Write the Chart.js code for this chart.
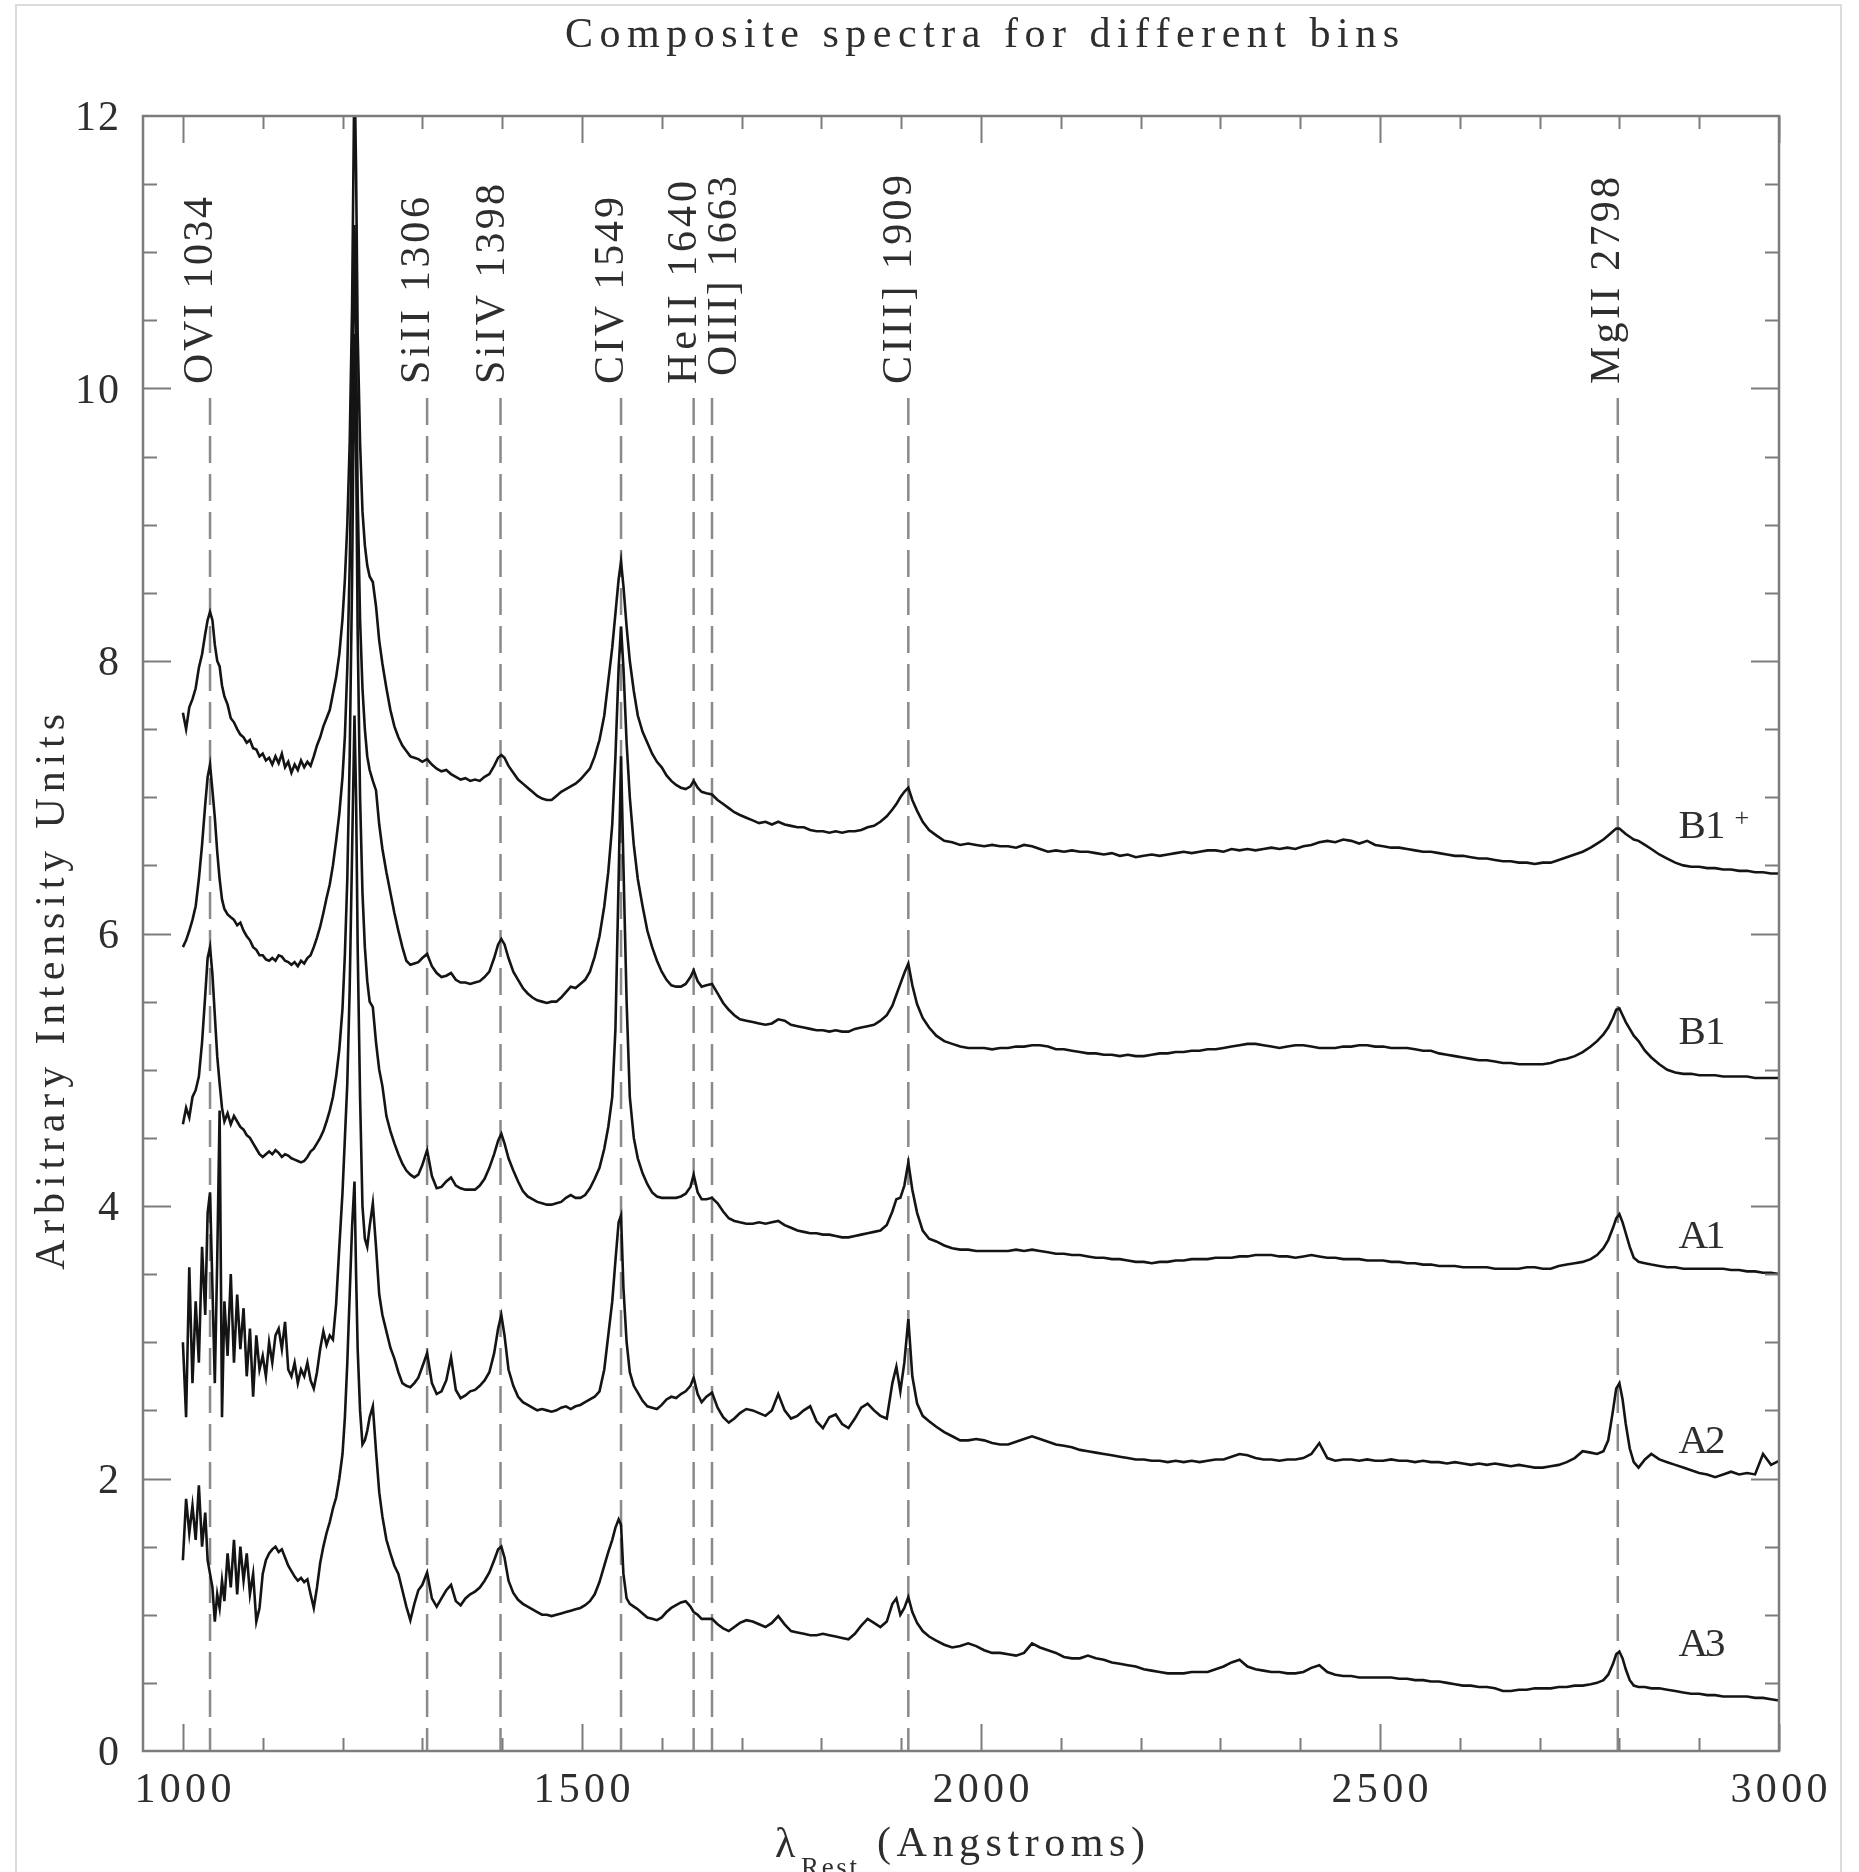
<!DOCTYPE html>
<html>
<head>
<meta charset="utf-8">
<title>Composite spectra for different bins</title>
<script src="https://cdn.jsdelivr.net/npm/chart.js@4.4.1/dist/chart.umd.min.js"></script>
<style>
  html, body { margin: 0; padding: 0; background: #fff; }
  #wrap { width: 1859px; height: 1872px; position: relative; overflow: hidden; }
</style>
</head>
<body>
<div id="wrap"><canvas id="spec" width="1859" height="1872"></canvas></div>
<script>
(function () {
  "use strict";

  // --- rest-frame wavelength grid (Angstroms), shared by the five composites ---
  const wave = [
    1000, 1004, 1008, 1012, 1016, 1020, 1024, 1028, 1031, 1034,
    1037, 1040, 1043, 1046, 1049, 1052, 1056, 1060, 1064, 1068,
    1072, 1076, 1080, 1084, 1088, 1092, 1096, 1100, 1104, 1108,
    1112, 1116, 1120, 1124, 1128, 1132, 1136, 1140, 1144, 1148,
    1152, 1156, 1160, 1164, 1168, 1172, 1176, 1180, 1184, 1188,
    1192, 1196, 1200, 1203, 1206, 1209, 1212, 1215, 1217, 1219,
    1222, 1225, 1228, 1231, 1234, 1238, 1242, 1246, 1250, 1255,
    1260, 1265, 1270, 1275, 1280, 1285, 1290, 1295, 1300, 1306,
    1312, 1318, 1324, 1330, 1336, 1342, 1348, 1354, 1360, 1366,
    1372, 1378, 1384, 1390, 1395, 1399, 1403, 1408, 1414, 1420,
    1426, 1432, 1438, 1444, 1450, 1456, 1462, 1468, 1474, 1480,
    1486, 1492, 1498, 1504, 1510, 1516, 1522, 1528, 1533, 1538,
    1542, 1546, 1549, 1552, 1556, 1560, 1565, 1570, 1576, 1582,
    1588, 1594, 1600, 1606, 1612, 1618, 1624, 1630, 1636, 1640,
    1645, 1650, 1656, 1663, 1670, 1677, 1684, 1691, 1698, 1706,
    1714, 1722, 1730, 1738, 1746, 1754, 1762, 1770, 1778, 1786,
    1794, 1802, 1810, 1818, 1826, 1834, 1842, 1850, 1858, 1866,
    1874, 1882, 1889, 1894, 1899, 1904, 1909, 1914, 1920, 1927,
    1935, 1944, 1954, 1964, 1974, 1984, 1994, 2004, 2014, 2024,
    2034, 2044, 2054, 2064, 2074, 2084, 2094, 2104, 2114, 2124,
    2134, 2144, 2154, 2164, 2174, 2184, 2194, 2204, 2214, 2224,
    2234, 2244, 2254, 2264, 2274, 2284, 2294, 2304, 2314, 2324,
    2334, 2344, 2354, 2364, 2374, 2384, 2394, 2404, 2414, 2424,
    2434, 2444, 2454, 2464, 2474, 2484, 2494, 2504, 2514, 2524,
    2534, 2544, 2554, 2564, 2574, 2584, 2594, 2604, 2614, 2624,
    2634, 2644, 2654, 2664, 2674, 2684, 2694, 2704, 2714, 2724,
    2734, 2744, 2754, 2764, 2772, 2780, 2786, 2792, 2796, 2800,
    2804, 2808, 2813, 2818, 2824, 2832, 2840, 2850, 2860, 2870,
    2880, 2890, 2900, 2910, 2920, 2930, 2940, 2950, 2960, 2970,
    2980, 2990, 3000
  ];

  // --- composite flux per bin (arbitrary units, already offset) ---
  const fluxB1p = [
    7.62, 7.50, 7.66, 7.72, 7.80, 7.95, 8.05, 8.20, 8.30, 8.36,
    8.30, 8.12, 8.00, 7.96, 7.82, 7.74, 7.68, 7.58, 7.55, 7.50,
    7.46, 7.44, 7.40, 7.42, 7.36, 7.35, 7.30, 7.32, 7.27, 7.29,
    7.24, 7.30, 7.25, 7.32, 7.22, 7.26, 7.18, 7.24, 7.20, 7.27,
    7.22, 7.26, 7.23, 7.30, 7.38, 7.44, 7.52, 7.58, 7.64, 7.76,
    7.88, 8.05, 8.31, 8.60, 9.00, 9.60, 10.60, 12.40, 11.60, 10.40,
    9.60, 9.10, 8.85, 8.70, 8.62, 8.58, 8.40, 8.15, 7.98, 7.80,
    7.64, 7.52, 7.44, 7.38, 7.34, 7.30, 7.29, 7.28, 7.26, 7.28,
    7.24, 7.21, 7.19, 7.20, 7.17, 7.15, 7.13, 7.14, 7.12, 7.13,
    7.12, 7.15, 7.17, 7.23, 7.29, 7.31, 7.29, 7.23, 7.18, 7.13,
    7.10, 7.07, 7.04, 7.01, 6.99, 6.98, 6.98, 7.01, 7.04, 7.06,
    7.08, 7.10, 7.13, 7.17, 7.21, 7.30, 7.42, 7.60, 7.85, 8.10,
    8.35, 8.60, 8.73, 8.55, 8.25, 8.00, 7.78, 7.60, 7.48, 7.40,
    7.32, 7.26, 7.22, 7.16, 7.12, 7.09, 7.07, 7.06, 7.08, 7.12,
    7.07, 7.04, 7.03, 7.02, 6.98, 6.95, 6.92, 6.89, 6.87, 6.85,
    6.83, 6.81, 6.82, 6.80, 6.82, 6.80, 6.79, 6.78, 6.78, 6.76,
    6.75, 6.75, 6.74, 6.75, 6.74, 6.75, 6.75, 6.76, 6.78, 6.79,
    6.82, 6.86, 6.91, 6.95, 7.00, 7.04, 7.07, 6.98, 6.90, 6.82,
    6.76, 6.72, 6.68, 6.67, 6.65, 6.66, 6.65, 6.64, 6.65, 6.64,
    6.64, 6.63, 6.65, 6.64, 6.62, 6.60, 6.61, 6.60, 6.61, 6.60,
    6.60, 6.59, 6.58, 6.59, 6.57, 6.58, 6.56, 6.57, 6.58, 6.57,
    6.58, 6.59, 6.60, 6.59, 6.60, 6.61, 6.61, 6.60, 6.62, 6.61,
    6.62, 6.61, 6.62, 6.63, 6.62, 6.63, 6.62, 6.64, 6.65, 6.67,
    6.68, 6.67, 6.69, 6.68, 6.66, 6.68, 6.65, 6.64, 6.63, 6.63,
    6.62, 6.61, 6.60, 6.60, 6.59, 6.58, 6.57, 6.57, 6.56, 6.55,
    6.55, 6.54, 6.53, 6.53, 6.52, 6.52, 6.51, 6.52, 6.52, 6.54,
    6.56, 6.58, 6.60, 6.63, 6.66, 6.69, 6.72, 6.75, 6.77, 6.77,
    6.75, 6.73, 6.71, 6.69, 6.68, 6.65, 6.62, 6.58, 6.55, 6.52,
    6.50, 6.49, 6.49, 6.48, 6.48, 6.47, 6.47, 6.46, 6.46, 6.45,
    6.45, 6.44, 6.44
  ];
  const fluxB1 = [
    5.90, 5.95, 6.02, 6.10, 6.20, 6.40, 6.65, 6.95, 7.15, 7.24,
    7.05, 6.85, 6.60, 6.40, 6.25, 6.18, 6.14, 6.12, 6.10, 6.06,
    6.08, 6.02, 5.98, 5.95, 5.90, 5.88, 5.84, 5.84, 5.81, 5.80,
    5.82, 5.80, 5.84, 5.83, 5.80, 5.79, 5.77, 5.79, 5.76, 5.80,
    5.78, 5.82, 5.84, 5.90, 5.97, 6.05, 6.15, 6.26, 6.36, 6.50,
    6.68, 6.88, 7.15, 7.45, 7.95, 8.70, 9.80, 11.20, 10.40, 9.20,
    8.30, 7.80, 7.50, 7.30, 7.20, 7.12, 7.05, 6.80, 6.62, 6.45,
    6.30, 6.15, 6.02, 5.90, 5.80, 5.77, 5.78, 5.79, 5.82, 5.85,
    5.76, 5.71, 5.68, 5.69, 5.71, 5.66, 5.64, 5.64, 5.63, 5.64,
    5.65, 5.68, 5.72, 5.82, 5.92, 5.96, 5.92, 5.82, 5.72, 5.66,
    5.60, 5.56, 5.53, 5.51, 5.50, 5.49, 5.50, 5.50, 5.53, 5.57,
    5.61, 5.60, 5.63, 5.66, 5.72, 5.83, 5.98, 6.20, 6.45, 6.80,
    7.30, 7.95, 8.25, 7.95, 7.40, 7.00, 6.65, 6.40, 6.20, 6.02,
    5.90, 5.80, 5.72, 5.66, 5.62, 5.61, 5.61, 5.63, 5.68, 5.73,
    5.65, 5.61, 5.62, 5.63, 5.56, 5.49, 5.44, 5.40, 5.37, 5.36,
    5.35, 5.34, 5.33, 5.34, 5.37, 5.36, 5.33, 5.32, 5.31, 5.30,
    5.29, 5.29, 5.28, 5.29, 5.28, 5.28, 5.30, 5.31, 5.32, 5.33,
    5.36, 5.40, 5.47, 5.55, 5.63, 5.71, 5.78, 5.62, 5.48, 5.38,
    5.31, 5.25, 5.21, 5.19, 5.17, 5.16, 5.16, 5.16, 5.15, 5.16,
    5.16, 5.17, 5.17, 5.18, 5.18, 5.17, 5.15, 5.15, 5.14, 5.13,
    5.12, 5.12, 5.11, 5.11, 5.10, 5.11, 5.10, 5.10, 5.11, 5.12,
    5.12, 5.13, 5.13, 5.14, 5.14, 5.15, 5.15, 5.16, 5.17, 5.18,
    5.19, 5.19, 5.18, 5.17, 5.16, 5.17, 5.18, 5.18, 5.17, 5.16,
    5.16, 5.16, 5.17, 5.17, 5.18, 5.18, 5.17, 5.17, 5.16, 5.16,
    5.16, 5.15, 5.14, 5.14, 5.12, 5.11, 5.10, 5.09, 5.08, 5.07,
    5.07, 5.06, 5.05, 5.05, 5.04, 5.04, 5.04, 5.04, 5.05, 5.07,
    5.08, 5.10, 5.13, 5.17, 5.21, 5.26, 5.31, 5.38, 5.44, 5.45,
    5.40, 5.35, 5.30, 5.25, 5.21, 5.14, 5.09, 5.04, 5.00, 4.98,
    4.97, 4.97, 4.96, 4.96, 4.96, 4.95, 4.95, 4.95, 4.95, 4.94,
    4.94, 4.94, 4.94
  ];
  const fluxA1 = [
    4.60, 4.72, 4.65, 4.80, 4.85, 4.95, 5.20, 5.55, 5.82, 5.90,
    5.70, 5.40, 5.10, 4.90, 4.72, 4.62, 4.68, 4.60, 4.66, 4.62,
    4.58, 4.56, 4.52, 4.50, 4.46, 4.42, 4.38, 4.36, 4.38, 4.40,
    4.38, 4.41, 4.39, 4.36, 4.38, 4.37, 4.35, 4.34, 4.33, 4.32,
    4.33, 4.36, 4.40, 4.42, 4.46, 4.50, 4.55, 4.62, 4.70, 4.80,
    4.95, 5.15, 5.45, 5.85, 6.40, 7.30, 8.60, 10.40, 9.60, 8.20,
    7.00, 6.30, 5.90, 5.65, 5.50, 5.46, 5.20, 5.00, 4.88, 4.66,
    4.55, 4.46, 4.38, 4.31, 4.26, 4.23, 4.21, 4.23, 4.30, 4.41,
    4.22, 4.13, 4.14, 4.18, 4.21, 4.15, 4.13, 4.12, 4.12, 4.12,
    4.15, 4.20, 4.28, 4.38, 4.48, 4.53, 4.46, 4.35, 4.26, 4.18,
    4.11, 4.07, 4.05, 4.03, 4.02, 4.01, 4.01, 4.02, 4.03, 4.06,
    4.08, 4.06, 4.06, 4.08, 4.13, 4.20, 4.28, 4.42, 4.58, 4.80,
    5.30, 6.40, 7.30, 6.50, 5.50, 4.80, 4.50, 4.35, 4.24, 4.16,
    4.10, 4.07, 4.06, 4.06, 4.06, 4.06, 4.07, 4.09, 4.14, 4.23,
    4.10, 4.05, 4.05, 4.06, 4.02, 3.96, 3.91, 3.89, 3.88, 3.87,
    3.87, 3.88, 3.87, 3.88, 3.89, 3.86, 3.84, 3.82, 3.81, 3.80,
    3.80, 3.79, 3.79, 3.78, 3.77, 3.77, 3.78, 3.79, 3.80, 3.81,
    3.82, 3.86, 3.96, 4.05, 4.06, 4.15, 4.32, 4.12, 3.95, 3.82,
    3.76, 3.74, 3.71, 3.69, 3.68, 3.68, 3.67, 3.67, 3.67, 3.67,
    3.67, 3.68, 3.67, 3.68, 3.67, 3.66, 3.65, 3.65, 3.64, 3.64,
    3.63, 3.62, 3.62, 3.61, 3.61, 3.60, 3.59, 3.59, 3.58, 3.59,
    3.59, 3.60, 3.60, 3.61, 3.61, 3.61, 3.62, 3.62, 3.62, 3.63,
    3.63, 3.64, 3.64, 3.64, 3.63, 3.63, 3.62, 3.63, 3.64, 3.63,
    3.62, 3.62, 3.61, 3.61, 3.61, 3.60, 3.60, 3.60, 3.59, 3.59,
    3.58, 3.58, 3.57, 3.57, 3.56, 3.56, 3.56, 3.55, 3.55, 3.55,
    3.55, 3.54, 3.54, 3.54, 3.54, 3.55, 3.55, 3.54, 3.54, 3.56,
    3.57, 3.58, 3.59, 3.61, 3.64, 3.69, 3.75, 3.84, 3.91, 3.94,
    3.88, 3.80, 3.70, 3.62, 3.59, 3.58, 3.57, 3.56, 3.55, 3.55,
    3.54, 3.54, 3.54, 3.54, 3.54, 3.54, 3.53, 3.53, 3.52, 3.52,
    3.51, 3.51, 3.50
  ];
  const fluxA2 = [
    3.00, 2.45, 3.55, 2.70, 3.30, 2.85, 3.70, 3.20, 3.95, 4.10,
    3.40, 2.70, 3.60, 4.70, 2.45, 3.30, 2.90, 3.50, 2.85, 3.35,
    2.95, 3.25, 2.75, 3.10, 2.60, 3.05, 2.80, 2.90, 2.75, 3.00,
    2.85, 3.05, 3.10, 2.95, 3.15, 2.80, 2.75, 2.85, 2.70, 2.80,
    2.75, 2.85, 2.72, 2.66, 2.78, 2.95, 3.08, 2.98, 3.05, 3.02,
    3.28, 3.70, 4.10, 4.50, 4.90, 5.60, 6.60, 7.60, 7.00, 5.90,
    4.80, 4.00, 3.76, 3.70, 3.85, 4.02, 3.70, 3.35, 3.20, 3.08,
    2.96, 2.88, 2.78, 2.70, 2.68, 2.67, 2.70, 2.74, 2.82, 2.92,
    2.70, 2.62, 2.64, 2.72, 2.89, 2.65, 2.59, 2.61, 2.64, 2.65,
    2.68, 2.72, 2.78, 2.92, 3.10, 3.20, 3.05, 2.80, 2.68, 2.60,
    2.56, 2.54, 2.52, 2.50, 2.51, 2.50, 2.49, 2.50, 2.52, 2.53,
    2.51, 2.53, 2.54, 2.56, 2.58, 2.60, 2.64, 2.80, 3.05, 3.30,
    3.60, 3.88, 3.93, 3.40, 3.00, 2.78, 2.68, 2.63, 2.57, 2.53,
    2.52, 2.51, 2.54, 2.58, 2.60, 2.59, 2.62, 2.64, 2.68, 2.74,
    2.62, 2.56, 2.60, 2.63, 2.52, 2.45, 2.41, 2.44, 2.48, 2.51,
    2.50, 2.48, 2.46, 2.50, 2.62, 2.50, 2.44, 2.46, 2.50, 2.53,
    2.42, 2.37, 2.45, 2.47, 2.40, 2.37, 2.44, 2.52, 2.55, 2.50,
    2.46, 2.44, 2.70, 2.82, 2.64, 2.85, 3.17, 2.75, 2.55, 2.46,
    2.42, 2.38, 2.34, 2.31, 2.28, 2.28, 2.29, 2.28, 2.26, 2.25,
    2.25, 2.27, 2.29, 2.31, 2.29, 2.27, 2.25, 2.24, 2.23, 2.21,
    2.20, 2.19, 2.18, 2.17, 2.16, 2.15, 2.14, 2.14, 2.13, 2.13,
    2.12, 2.13, 2.12, 2.13, 2.12, 2.13, 2.14, 2.14, 2.16, 2.18,
    2.17, 2.15, 2.14, 2.14, 2.13, 2.14, 2.14, 2.15, 2.18, 2.26,
    2.15, 2.13, 2.14, 2.14, 2.13, 2.14, 2.13, 2.13, 2.14, 2.13,
    2.13, 2.12, 2.13, 2.12, 2.12, 2.11, 2.12, 2.11, 2.10, 2.11,
    2.10, 2.11, 2.10, 2.09, 2.10, 2.09, 2.08, 2.08, 2.09, 2.10,
    2.12, 2.15, 2.20, 2.19, 2.18, 2.20, 2.28, 2.50, 2.66, 2.70,
    2.58, 2.40, 2.22, 2.12, 2.08, 2.14, 2.18, 2.14, 2.12, 2.10,
    2.08, 2.06, 2.04, 2.03, 2.01, 2.03, 2.05, 2.03, 2.04, 2.03,
    2.18, 2.10, 2.13
  ];
  const fluxA3 = [
    1.40, 1.85, 1.60, 1.80, 1.55, 1.95, 1.50, 1.75, 1.40, 1.30,
    1.20, 0.95, 1.15, 1.05, 1.25, 1.10, 1.45, 1.20, 1.55, 1.15,
    1.50, 1.25, 1.45, 1.15, 1.30, 0.95, 1.05, 1.30, 1.40, 1.45,
    1.48, 1.50, 1.46, 1.48, 1.42, 1.36, 1.32, 1.28, 1.25, 1.27,
    1.24, 1.26, 1.15, 1.05, 1.20, 1.38, 1.50, 1.60, 1.68, 1.78,
    1.86, 2.00, 2.18, 2.45, 2.85, 3.35, 3.85, 4.18, 3.50, 2.95,
    2.50, 2.25, 2.28, 2.35, 2.45, 2.53, 2.20, 1.90, 1.72, 1.55,
    1.45, 1.36, 1.30, 1.18, 1.06, 0.96, 1.08, 1.18, 1.22, 1.31,
    1.12, 1.06, 1.12, 1.18, 1.22, 1.10, 1.07, 1.12, 1.15, 1.17,
    1.20, 1.25, 1.31, 1.40, 1.48, 1.50, 1.42, 1.25, 1.16, 1.11,
    1.08, 1.06, 1.04, 1.02, 1.00, 1.00, 0.99, 1.00, 1.01, 1.02,
    1.03, 1.04, 1.05, 1.07, 1.10, 1.15, 1.24, 1.36, 1.46, 1.55,
    1.64, 1.70, 1.66, 1.30, 1.12, 1.08, 1.06, 1.04, 1.01, 0.98,
    0.97, 0.96, 0.98, 1.02, 1.05, 1.07, 1.09, 1.10, 1.06, 1.02,
    1.00, 0.97, 0.97, 0.97, 0.93, 0.90, 0.88, 0.91, 0.94, 0.96,
    0.95, 0.93, 0.91, 0.94, 0.99, 0.93, 0.88, 0.87, 0.86, 0.85,
    0.85, 0.86, 0.85, 0.84, 0.83, 0.82, 0.86, 0.92, 0.97, 0.94,
    0.91, 0.95, 1.08, 1.12, 1.00, 1.05, 1.13, 1.02, 0.94, 0.88,
    0.84, 0.81, 0.78, 0.76, 0.77, 0.79, 0.77, 0.74, 0.72, 0.72,
    0.71, 0.70, 0.72, 0.79, 0.76, 0.74, 0.72, 0.69, 0.68, 0.68,
    0.70, 0.68, 0.67, 0.65, 0.64, 0.63, 0.62, 0.60, 0.59, 0.58,
    0.57, 0.57, 0.57, 0.58, 0.58, 0.58, 0.60, 0.62, 0.65, 0.67,
    0.62, 0.60, 0.59, 0.58, 0.58, 0.57, 0.57, 0.58, 0.61, 0.63,
    0.58, 0.56, 0.55, 0.55, 0.54, 0.54, 0.54, 0.54, 0.54, 0.53,
    0.53, 0.52, 0.52, 0.51, 0.51, 0.50, 0.49, 0.48, 0.48, 0.47,
    0.47, 0.46, 0.44, 0.44, 0.45, 0.45, 0.46, 0.46, 0.46, 0.47,
    0.47, 0.48, 0.48, 0.49, 0.50, 0.52, 0.56, 0.64, 0.71, 0.73,
    0.68, 0.60, 0.52, 0.48, 0.47, 0.47, 0.46, 0.46, 0.45, 0.44,
    0.43, 0.42, 0.42, 0.41, 0.41, 0.40, 0.40, 0.40, 0.40, 0.39,
    0.39, 0.38, 0.37
  ];

  // emission lines marked with dashed guides
  const lineNames = ["OVI 1034", "SiII 1306", "SiIV 1398", "CIV 1549",
                     "HeII 1640", "OIII] 1663", "CIII] 1909", "MgII 2798"];
  const lineWaves = [1034, 1306, 1398, 1549, 1640, 1663, 1909, 2798];

  const binNames = ["B1", "B1", "A1", "A2", "A3"];   // first one gets a "+" superscript
  const xTickLabels = [1000, 1500, 2000, 2500, 3000];
  const yTickLabels = [0, 2, 4, 6, 8, 10, 12];

  // --- drawing helpers ---
  const FONT = '"Liberation Serif", "Times New Roman", serif';
  const INK = "#2e2e2e";

  // draws text char by char, stretched to a given width (PGPLOT-like spacing)
  const drawFit = (ctx, text, x, y, width, align) => {
    const chars = Array.from(text);
    const widths = chars.map(c => ctx.measureText(c).width);
    const natural = widths.reduce((a, b) => a + b, 0);
    const gap = width ? (width - natural) / Math.max(chars.length - 1, 1) : 0;
    const total = natural + gap * (chars.length - 1);
    let cx = align === "center" ? x - total / 2 : align === "right" ? x - total : x;
    ctx.textAlign = "left";
    chars.forEach((c, i) => { ctx.fillText(c, cx, y); cx += widths[i] + gap; });
  };

  // label geometry for the line ids (length of text, baseline offset from the guide)
  const lineLabelLen = [187, 187, 200, 187, 203, 200, 209, 207];
  const lineLabelOff = [2, 2, 3, 2, 2, 24, 3, 1];
  const binLabelBase = [6.70, 5.19, 3.69, 2.19, 0.70];

  const framePlugin = {
    id: "pgframe",
    beforeDraw(chart) {
      const ctx = chart.ctx;
      ctx.save();
      ctx.strokeStyle = "#dcdcdc";
      ctx.lineWidth = 2;
      ctx.strokeRect(16, 5, 1825, 1880);
      ctx.restore();
    },
    afterDatasetsDraw(chart) {
      const ctx = chart.ctx;
      const a = chart.chartArea;
      const xs = chart.scales.x, ys = chart.scales.y;
      ctx.save();
      ctx.strokeStyle = "#7c7c7c";
      ctx.lineWidth = 2.5;
      ctx.strokeRect(a.left, a.top, a.right - a.left, a.bottom - a.top);
      ctx.lineWidth = 2;
      ctx.beginPath();
      for (let w = 1000; w <= 3000; w += 100) {
        const px = Math.round(xs.getPixelForValue(w)) + 0.5;
        const len = w % 500 === 0 ? 27 : 13;
        ctx.moveTo(px, a.bottom); ctx.lineTo(px, a.bottom - len);
        ctx.moveTo(px, a.top); ctx.lineTo(px, a.top + len);
      }
      for (let v = 0.5; v < 12; v += 0.5) {
        const py = Math.round(ys.getPixelForValue(v)) + 0.5;
        const len = v % 2 === 0 ? 28 : 14;
        ctx.moveTo(a.left, py); ctx.lineTo(a.left + len, py);
        ctx.moveTo(a.right, py); ctx.lineTo(a.right - len, py);
      }
      ctx.stroke();
      ctx.restore();
    },
    afterDraw(chart) {
      const ctx = chart.ctx;
      const xs = chart.scales.x, ys = chart.scales.y;
      ctx.save();
      ctx.fillStyle = INK;
      ctx.textBaseline = "alphabetic";

      // title
      ctx.font = `42px ${FONT}`;
      drawFit(ctx, "Composite spectra for different bins", 982, 47, 834, "center");

      // tick labels
      yTickLabels.forEach(v => {
        const py = ys.getPixelForValue(v);
        const s = String(v);
        drawFit(ctx, s, 119, py + 14, s.length > 1 ? 44 : 0, "right");
      });
      xTickLabels.forEach(w => {
        drawFit(ctx, String(w), xs.getPixelForValue(w), 1802, 97, "center");
      });

      // axis titles
      ctx.save();
      ctx.translate(64, 992);
      ctx.rotate(-Math.PI / 2);
      drawFit(ctx, "Arbitrary Intensity Units", 0, 0, 556, "center");
      ctx.restore();

      ctx.fillText("\u03bb", 775, 1857);
      drawFit(ctx, "(Angstroms)", 877, 1856, 268, "left");
      ctx.font = `27px ${FONT}`;
      drawFit(ctx, "Rest", 801, 1876, 56, "left");

      // emission line ids
      ctx.font = `42px ${FONT}`;
      lineNames.forEach((name, i) => {
        const px = xs.getPixelForValue(lineWaves[i]);
        ctx.save();
        ctx.translate(px + lineLabelOff[i], i === 5 ? 376 : 384);
        ctx.rotate(-Math.PI / 2);
        drawFit(ctx, name, 0, 0, lineLabelLen[i], "left");
        ctx.restore();
      });

      // bin names at the right end of each spectrum
      ctx.font = `41px ${FONT}`;
      const lx = xs.getPixelForValue(2874);
      binNames.forEach((name, i) => {
        drawFit(ctx, name, lx, ys.getPixelForValue(binLabelBase[i]), 47, "left");
      });
      ctx.font = `26px ${FONT}`;
      ctx.fillText("+", lx + 56, ys.getPixelForValue(binLabelBase[0]) - 12);
      ctx.restore();
    }
  };

  const series = [fluxB1p, fluxB1, fluxA1, fluxA2, fluxA3];
  const datasets = series.map(ys => ({
    data: wave.map((w, i) => ({ x: w, y: ys[i] })),
    borderColor: "#141414",
    borderWidth: 2.6,
    pointRadius: 0,
    tension: 0,
    fill: false
  }));
  // dashed guides go after the spectra so they are painted underneath
  lineWaves.forEach(w => {
    datasets.push({
      data: [{ x: w, y: 9.93 }, { x: w, y: 0 }],
      borderColor: "#8a8a8a",
      borderWidth: 2.5,
      borderDash: [27, 11],
      pointRadius: 0,
      fill: false
    });
  });

  new Chart(document.getElementById("spec").getContext("2d"), {
    type: "line",
    data: { datasets },
    options: {
      responsive: false,
      animation: false,
      devicePixelRatio: 1,
      events: [],
      layout: { padding: { left: 143, top: 116, right: 80, bottom: 121 } },
      plugins: { legend: { display: false }, tooltip: { enabled: false }, title: { display: false } },
      scales: {
        x: { type: "linear", min: 950, max: 3000, display: false },
        y: { type: "linear", min: 0, max: 12, display: false }
      }
    },
    plugins: [framePlugin]
  });
})();
</script>
</body>
</html>
